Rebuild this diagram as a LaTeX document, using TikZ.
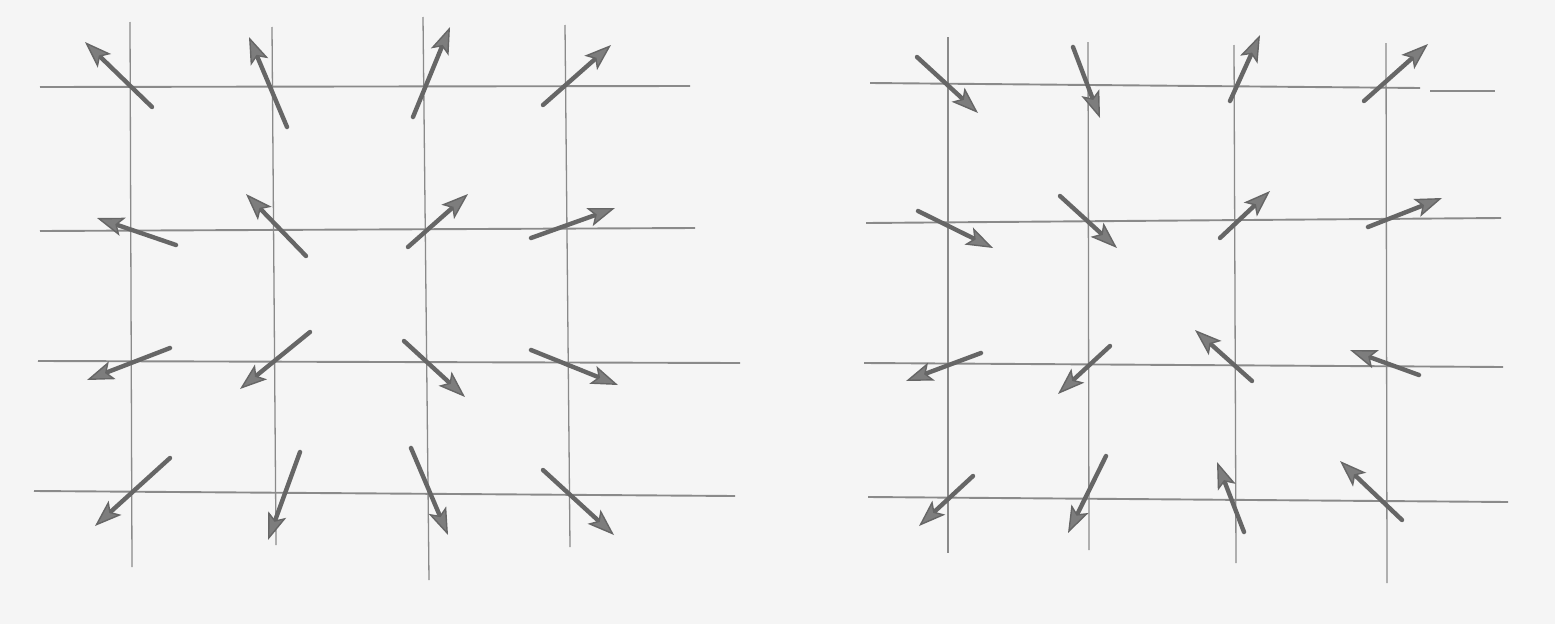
\documentclass[tikz,border=0pt]{standalone}
\usetikzlibrary{arrows.meta}
\definecolor{paper}{HTML}{F5F5F5}
\definecolor{pencil}{HTML}{8A8A8A}
\definecolor{ink}{HTML}{666666}
\tikzset{
  gridline/.style={draw=pencil, line width=1.3pt},
  hgridline/.style={draw=pencil, line width=1.9pt},
  vecarrow/.style={draw=ink, line width=4.4pt, line cap=round,
    -{Stealth[length=27pt,width=19pt,inset=6pt,fill=ink!85,line width=1.4pt]}}
}
\newcommand{\myvec}[4]{\draw[vecarrow] (#1,#2) -- (#3,#4);}
\begin{document}
\begin{tikzpicture}[x=1pt,y=-1pt]
\fill[paper] (0,0) rectangle (1555,624);
\useasboundingbox (0,0) rectangle (1555,624);
% ---------- left grid ----------
\draw[gridline] (130,22) -- (132,567);
\draw[gridline] (272,27) -- (276,545);
\draw[gridline] (423,17) -- (429,580);
\draw[gridline] (565,25) -- (570,547);
\draw[hgridline] (40,87) -- (690,86);
\draw[hgridline] (40,231) -- (695,228);
\draw[hgridline] (38,361) -- (740,363);
\draw[hgridline] (34,491) -- (735,496);
% ---------- right grid ----------
\draw[gridline] (948,37) -- (948,553);
\draw[gridline] (1088,42) -- (1089,550);
\draw[gridline] (1234,45) -- (1236,563);
\draw[gridline] (1386,43) -- (1387,583);
\draw[hgridline] (870,83) -- (1420,88);
\draw[hgridline, line width=1.2pt] (1430,91) -- (1495,91);
\draw[hgridline] (866,223) -- (1501,218);
\draw[hgridline] (864,363) -- (1503,367);
\draw[hgridline] (868,497) -- (1508,502);
% ---------- left arrows ----------
\myvec{152}{107}{85}{42}
\myvec{287}{127}{249}{37}
\myvec{413}{117}{450}{27}
\myvec{543}{105}{611}{45}
\myvec{176}{245}{97}{218}
\myvec{306}{256}{246}{194}
\myvec{408}{247}{468}{194}
\myvec{531}{238}{615}{208}
\myvec{170}{348}{87}{380}
\myvec{310}{332}{240}{389}
\myvec{404}{341}{465}{397}
\myvec{531}{350}{618}{385}
\myvec{170}{458}{95}{526}
\myvec{300}{452}{268}{540}
\myvec{411}{448}{448}{535}
\myvec{543}{470}{614}{535}
% ---------- right arrows ----------
\myvec{917}{57}{978}{113}
\myvec{1073}{47}{1100}{118}
\myvec{1230}{101}{1260}{35}
\myvec{1364}{101}{1428}{44}
\myvec{918}{211}{993}{248}
\myvec{1060}{196}{1117}{248}
\myvec{1220}{238}{1270}{191}
\myvec{1368}{227}{1442}{198}
\myvec{981}{353}{906}{381}
\myvec{1110}{346}{1058}{394}
\myvec{1252}{381}{1195}{330}
\myvec{1419}{375}{1350}{350}
\myvec{973}{476}{919}{526}
\myvec{1106}{456}{1068}{533}
\myvec{1244}{532}{1217}{462}
\myvec{1402}{520}{1340}{461}
\end{tikzpicture}
\end{document}
